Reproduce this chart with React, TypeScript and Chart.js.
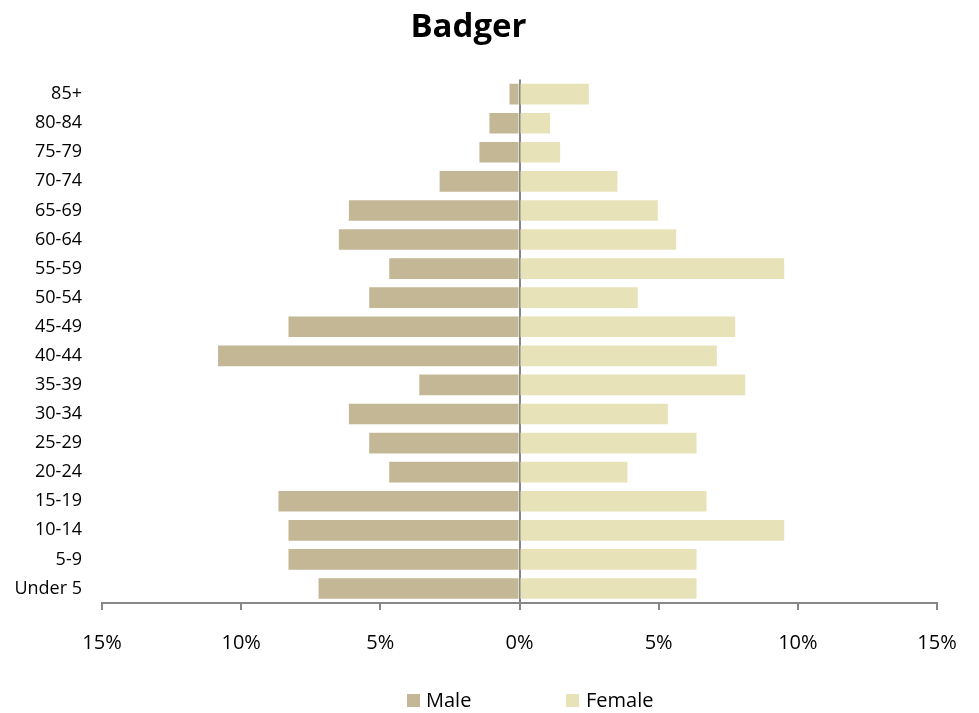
import React, { useEffect, useRef } from "react";
import { Chart, registerables } from "chart.js";

Chart.register(...registerables);

const TITLE = "Badger";
const AGE_GROUPS = [
  "85+", "80-84", "75-79", "70-74", "65-69", "60-64", "55-59", "50-54", "45-49",
  "40-44", "35-39", "30-34", "25-29", "20-24", "15-19", "10-14", "5-9", "Under 5",
];
// percentages of total population
const MALE = [0.36, 1.08, 1.44, 2.87, 6.13, 6.49, 4.68, 5.40, 8.30, 10.83, 3.60, 6.13, 5.40, 4.68, 8.66, 8.30, 8.30, 7.22];
const FEMALE = [2.49, 1.10, 1.46, 3.52, 4.97, 5.63, 9.51, 4.25, 7.75, 7.09, 8.11, 5.33, 6.36, 3.88, 6.72, 9.51, 6.36, 6.36];
const X_MIN = -15;
const X_MAX = 15;
const X_STEP = 5;

const MALE_COLOR = "#C4B796";
const FEMALE_COLOR = "#E8E2B8";
const AXIS_COLOR = "#878787";
const FONT = "'Open Sans', sans-serif";

export default function App() {
  const ref = useRef<HTMLCanvasElement | null>(null);

  useEffect(() => {
    if (!ref.current) return;
    const chart = new Chart(ref.current, {
      type: "bar",
      data: {
        labels: AGE_GROUPS,
        datasets: [
          { label: "Male", data: MALE.map((v) => -v), backgroundColor: MALE_COLOR, barPercentage: 0.71, categoryPercentage: 1 },
          { label: "Female", data: FEMALE, backgroundColor: FEMALE_COLOR, barPercentage: 0.71, categoryPercentage: 1 },
        ],
      },
      options: {
        indexAxis: "y",
        animation: false,
        responsive: false,
        maintainAspectRatio: false,
        devicePixelRatio: 1,
        layout: { padding: { left: 0, right: 42, top: 0, bottom: 37 } },
        plugins: {
          legend: { display: false },
          tooltip: { enabled: false },
          title: {
            display: true,
            text: TITLE,
            color: "#000",
            font: { family: FONT, size: 33, weight: "bold" },
            padding: { top: 8, bottom: 32 },
          },
        },
        scales: {
          x: {
            type: "linear",
            stacked: true,
            min: X_MIN,
            max: X_MAX,
            z: 1,
            ticks: {
              stepSize: X_STEP,
              color: "#000",
              font: { family: FONT, size: 20 },
              padding: 21,
              callback: (v: any) => Math.abs(Number(v)) + "%",
            },
            grid: {
              drawOnChartArea: true,
              color: (ctx: any) => (ctx.tick && ctx.tick.value === 0 ? AXIS_COLOR : "rgba(0,0,0,0)"),
              lineWidth: 2,
              tickColor: AXIS_COLOR,
              tickWidth: 2,
              tickLength: 7,
            },
            border: { display: true, color: AXIS_COLOR, width: 2 },
          },
          y: {
            stacked: true,
            afterFit: (s: any) => {
              s.width = 102;
            },
            ticks: {
              color: "#000",
              font: { family: FONT, size: 18 },
              padding: 20,
              autoSkip: false,
            },
            grid: { display: false, drawTicks: false },
            border: { display: false },
          },
        },
      },
    });
    return () => chart.destroy();
  }, []);

  const legendText: React.CSSProperties = {
    position: "absolute",
    fontFamily: FONT,
    fontSize: 20,
    lineHeight: "24px",
    color: "#000",
    top: 688,
  };
  const box: React.CSSProperties = { position: "absolute", width: 13, height: 13, top: 694 };

  return (
    <div style={{ position: "fixed", left: 0, top: 0, width: 979, height: 713, background: "#fff" }}>
      <canvas ref={ref} width={979} height={713} style={{ display: "block", width: 979, height: 713 }} />
      <div style={{ ...box, left: 407, background: MALE_COLOR }} />
      <div style={{ ...legendText, left: 426 }}>Male</div>
      <div style={{ ...box, left: 566, background: FEMALE_COLOR }} />
      <div style={{ ...legendText, left: 586 }}>Female</div>
    </div>
  );
}
